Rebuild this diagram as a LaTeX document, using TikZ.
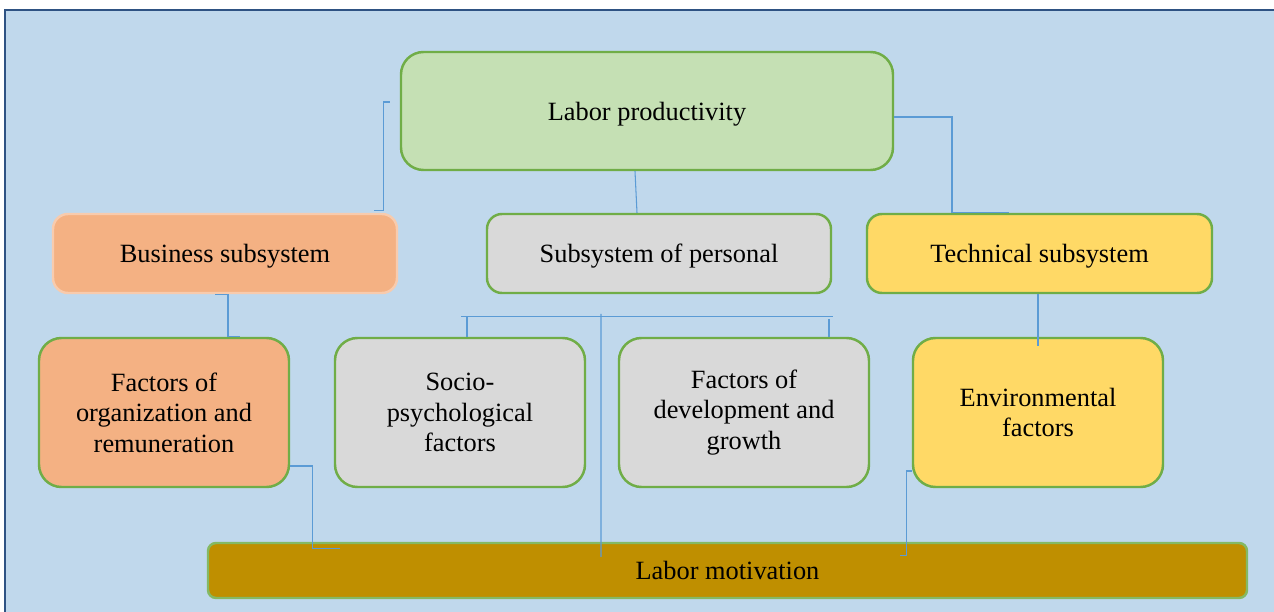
\documentclass[tikz,border=0pt]{standalone}
\usepackage{fontspec}
\setmainfont{Liberation Serif}
\usetikzlibrary{positioning}
\definecolor{sheet}{HTML}{C0D8EC}
\definecolor{frame}{HTML}{2E5283}
\definecolor{leaf}{HTML}{70AD47}
\definecolor{mint}{HTML}{C5E0B4}
\definecolor{peach}{HTML}{F4B183}
\definecolor{peachline}{HTML}{F8CBAD}
\definecolor{stone}{HTML}{D9D9D9}
\definecolor{sun}{HTML}{FFD966}
\definecolor{ochre}{HTML}{BF8F00}
\definecolor{wire}{HTML}{5B9BD5}
\tikzset{box/.style={draw=leaf,line width=1.4pt,rounded corners=0.3cm,align=center,
    font=\fontsize{15}{17.4}\selectfont,inner sep=2pt},
  oneline/.style={text height=0.5cm,text depth=0.12cm},
  sub/.style={box,oneline,minimum width=6.88cm,minimum height=1.58cm},
  fac/.style={box,rounded corners=0.45cm,minimum width=5cm,minimum height=2.98cm},
  link/.style={draw=wire,line width=0.6pt}}
\begin{document}
\begin{tikzpicture}
\useasboundingbox (0,0) rectangle (25.48,12.24);
\begin{scope}
\clip (0,0) rectangle (25.48,12.24);
\filldraw[fill=sheet,draw=frame,line width=1.4pt] (0.1,-1) rectangle (26.5,12.04);
\end{scope}
\node[box,oneline,fill=mint,rounded corners=0.45cm,minimum width=9.84cm,minimum height=2.36cm]
  (prod) at (12.94,10.02) {Labor productivity};
\node[sub,fill=peach,draw=peachline] (biz) at (4.5,7.17) {Business subsystem};
\node[sub,fill=stone] (pers) at (13.18,7.17) {Subsystem of personal};
\node[sub,fill=sun,minimum width=6.9cm] (tech) at (20.79,7.17) {Technical subsystem};
\node[fac,fill=peach] (org) at (3.28,3.99) {Factors of\\organization and\\remuneration};
\node[fac,fill=stone] (socio) at (9.2,3.99) {Socio-\\psychological\\factors};
\node[fac,fill=stone] (dev) at (14.88,3.99) {Factors of\\development and\\growth};
\node[fac,fill=sun] (env) at (20.76,3.99) {Environmental\\factors};
\node[box,oneline,fill=ochre,draw=leaf!85,rounded corners=0.16cm,minimum width=20.78cm,minimum height=1.1cm]
  (motiv) at (14.55,0.83) {Labor motivation};
\draw[link] ([xshift=-0.2cm,yshift=0.18cm]prod.west) -| ([xshift=-0.3cm,yshift=0.04cm]biz.north east) -- ++(-0.18,0);
\draw[link] ([xshift=-0.24cm]prod.south) -- ([xshift=-0.44cm]pers.north);
\draw[link] ([yshift=-0.12cm]prod.east) -| ([xshift=-1.75cm]tech.north) -- ([xshift=-0.61cm]tech.north);
\draw[link] ([xshift=-0.2cm]biz.south) -- ([xshift=0.06cm]biz.south) |- ([xshift=1.52cm]org.north);
\draw[link] ([xshift=-0.03cm]tech.south) -- ([yshift=-0.18cm]env.north);
\draw[link] ([xshift=0.02cm,yshift=0.4cm]socio.north) -- ([xshift=1.78cm,yshift=0.4cm]dev.north);
\draw[link] ([xshift=0.14cm,yshift=0.4cm]socio.north) -- ([xshift=0.14cm]socio.north);
\draw[link] ([xshift=1.7cm,yshift=0.36cm]dev.north) -- ([xshift=1.7cm]dev.north);
\draw[link] ([xshift=2.82cm,yshift=0.46cm]socio.north) -- ([xshift=-2.53cm,yshift=-0.3cm]motiv.north);
\draw[link] ([yshift=-1.07cm]org.east) -| ([xshift=2.12cm,yshift=-0.14cm]motiv.north west) -- ++(0.54,0);
\draw[link] ([yshift=-1.17cm]env.west) -| ([xshift=-6.84cm,yshift=-0.28cm]motiv.north east) -- ++(-0.12,0);
\end{tikzpicture}
\end{document}
